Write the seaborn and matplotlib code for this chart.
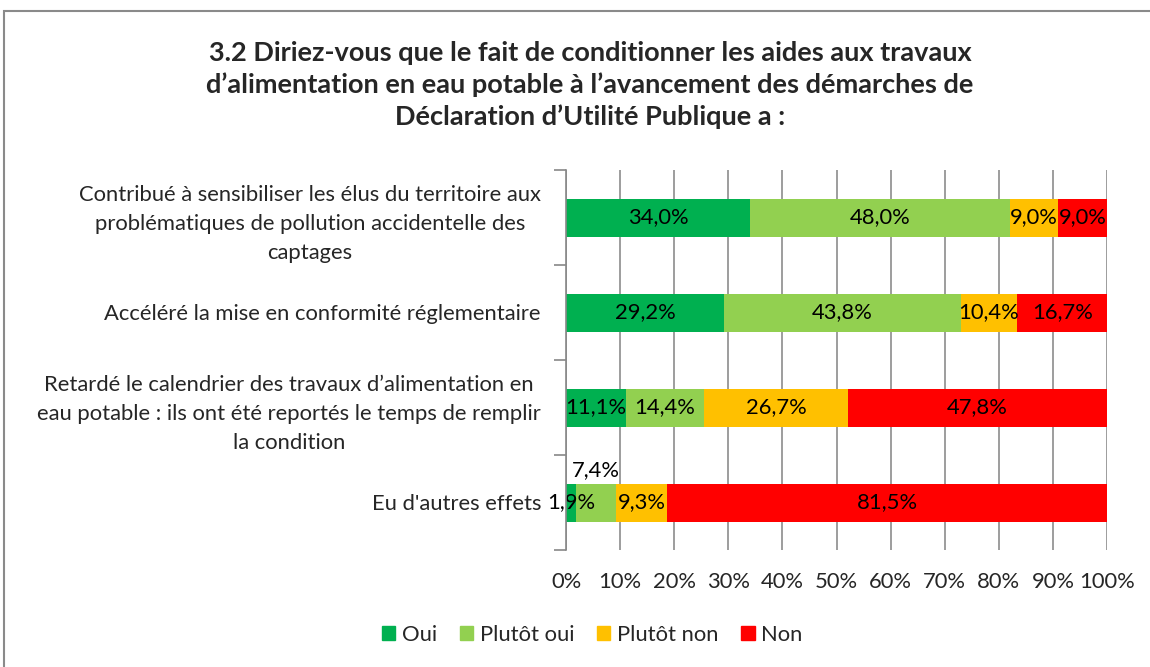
import matplotlib
matplotlib.use("Agg")
import matplotlib.pyplot as plt
import matplotlib.patches as mpatches
import numpy as np
import pandas as pd
import seaborn as sns

categories = [
    "Contribué à sensibiliser les élus du territoire aux\nproblématiques de pollution accidentelle des\ncaptages",
    "Accéléré la mise en conformité réglementaire",
    "Retardé le calendrier des travaux d’alimentation en\neau potable : ils ont été reportés le temps de remplir\nla condition",
    "Eu d'autres effets",
]
series = ["Oui", "Plutôt oui", "Plutôt non", "Non"]
oui = [34.0, 29.2, 11.1, 1.9]
plutot_oui = [48.0, 43.8, 14.4, 7.4]
plutot_non = [9.0, 10.4, 26.7, 9.3]
non = [9.0, 16.7, 47.8, 81.5]
colors = ["#00B050", "#92D050", "#FFC000", "#FF0000"]
x_ticks = [0, 10, 20, 30, 40, 50, 60, 70, 80, 90, 100]
title = ("3.2 Diriez-vous que le fait de conditionner les aides aux travaux\n"
         "d’alimentation en eau potable à l’avancement des démarches de\n"
         "Déclaration d’Utilité Publique a :")

sns.set_theme(style="white")
plt.rcParams["font.family"] = ["Lato", "DejaVu Sans"]
FS = 15.8

values = np.array([oui, plutot_oui, plutot_non, non])
starts = np.vstack([np.zeros(len(categories)), np.cumsum(values, axis=0)[:-1]])
ends = starts + values

fig = plt.figure(figsize=(11.5, 6.67), dpi=100)
ax = fig.add_axes([566 / 1150, 1 - 550 / 667, (1107 - 566) / 1150, (550 - 170) / 667])

# stacked bars: draw cumulative totals back to front
for i in reversed(range(len(series))):
    df = pd.DataFrame({"cat": categories, "end": np.minimum(ends[i], 100)})
    sns.barplot(data=df, x="end", y="cat", order=categories, color=colors[i],
                saturation=1, width=0.4, ax=ax, zorder=3, linewidth=0)

# value labels
for i in range(len(series)):
    for j in range(len(categories)):
        v = values[i][j]
        cx = starts[i][j] + v / 2
        cy = j
        if j == 3 and i == 1:
            cy = j - 0.34
        ax.text(cx, cy, f"{v:.1f}%".replace(".", ","), ha="center", va="center",
                fontsize=FS, color="black", zorder=5)

ax.set_xlim(0, 100)
ax.set_ylim(3.5, -0.5)
ax.set_xticks(x_ticks)
ax.set_xticklabels([f"{t}%" for t in x_ticks], fontsize=FS)
ax.set_yticks(range(len(categories)))
ax.set_yticklabels(categories, fontsize=FS, multialignment="center", linespacing=1.55)
ax.tick_params(axis="y", which="major", length=0, pad=18)
ax.set_yticks(np.arange(-0.5, len(categories), 1), minor=True)
ax.tick_params(axis="y", which="minor", length=9, width=1.2, color="#888888", left=True)
ax.tick_params(axis="x", length=0, pad=16)
ax.set_xlabel("")
ax.set_ylabel("")
ax.grid(axis="x", color="#8c8c8c", linewidth=1.2, zorder=0)
ax.set_axisbelow(True)
for s in ["top", "right", "bottom"]:
    ax.spines[s].set_visible(False)
ax.spines["left"].set_color("#888888")
ax.spines["left"].set_linewidth(1.2)
ax.spines["left"].set_zorder(6)

fig.text(0.513, 1 - 85 / 667, title, ha="center", va="center", fontsize=19.5,
         fontweight="bold", linespacing=1.33)

handles = [mpatches.Patch(color=c, label=s) for c, s in zip(colors, series)]
fig.legend(handles=handles, loc="center", bbox_to_anchor=(0.515, 1 - 635 / 667),
           ncol=4, frameon=False, fontsize=FS, handlelength=0.6, handleheight=0.6,
           handletextpad=0.3, columnspacing=1.05)

# chart border
fig.add_artist(mpatches.Rectangle((4 / 1150, -0.1), 1.2, 1.1 - 11 / 667,
                                  transform=fig.transFigure, fill=False,
                                  edgecolor="#8a8a8a", linewidth=1.5))

fig.savefig("out.png", dpi=100)
